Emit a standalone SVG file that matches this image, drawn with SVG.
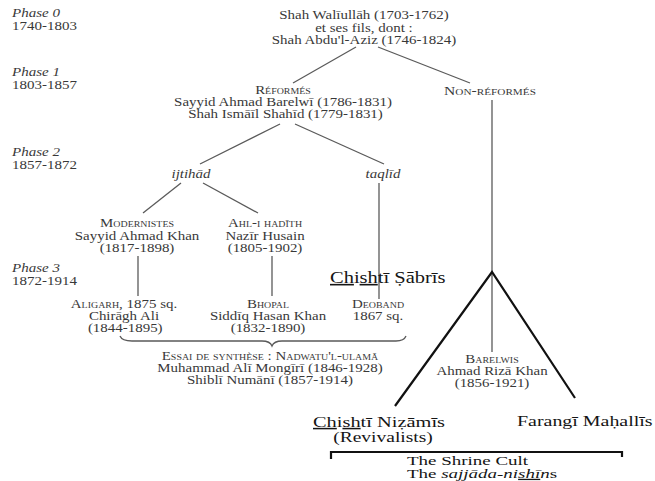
<svg xmlns="http://www.w3.org/2000/svg" width="655" height="481" viewBox="0 0 655 481">
<style>
.f{font-family:"Liberation Serif","Times New Roman",serif;font-size:12px;fill:#383838}
.m{text-anchor:middle}
.sc{font-variant:small-caps}
.it{font-style:italic}
.e{font-family:"Liberation Serif","Times New Roman",serif;fill:#151515}
.ln{stroke:#5a5a5a;stroke-width:1.3;fill:none}
.bk{stroke:#111;stroke-width:2.2;fill:none}
.u{text-decoration:underline}
</style>
<rect width="655" height="481" fill="#fff"/>
<g id="phases" transform="translate(12,0) scale(1.25,1)">
<text class="f it" x="0" y="17">Phase 0</text><text class="f" x="0" y="30">1740-1803</text>
<text class="f it" x="0" y="76">Phase 1</text><text class="f" x="0" y="89">1803-1857</text>
<text class="f it" x="0" y="156">Phase 2</text><text class="f" x="0" y="169">1857-1872</text>
<text class="f it" x="0" y="272">Phase 3</text><text class="f" x="0" y="285">1872-1914</text>
</g>
<g id="connectors">
<line class="ln" x1="356" y1="47" x2="293" y2="83"/>
<line class="ln" x1="378" y1="47" x2="470" y2="83"/>
<line class="ln" x1="280" y1="124" x2="200" y2="164"/>
<line class="ln" x1="295" y1="124" x2="384" y2="164"/>
<line class="ln" x1="181" y1="183" x2="143" y2="213"/>
<line class="ln" x1="203" y1="183" x2="258" y2="213"/>
<line class="ln" x1="379" y1="183" x2="379" y2="299"/>
<line class="ln" x1="138" y1="256" x2="138" y2="296"/>
<line class="ln" x1="272" y1="256" x2="272" y2="296"/>
<line class="ln" x1="492" y1="100" x2="492" y2="352"/>
<path class="ln" d="M120,336 Q122,341 132,341 L262,341 Q270,341 272,346 Q274,341 282,341 L396,341 Q404,341 406,336"/>
<path class="bk" d="M395,406 L492,272 L575,398"/>
<path class="bk" d="M331,459 L331,452 L622,452 L622,457"/>
</g>
<g id="n-top" transform="translate(364,0) scale(1.246,1)"><text class="f m" x="0" y="19">Shah Walīullāh (1703-1762)</text><text class="f m" x="0" y="32">et ses fils, dont :</text><text class="f m" x="0" y="44">Shah Abdu'l-Aziz (1746-1824)</text></g>
<g id="n-reformes" transform="translate(283,0) scale(1.246,1)"><text class="f m sc" x="0" y="94">Réformés</text><text class="f m" x="0" y="106">Sayyid Ahmad Barelwī (1786-1831)</text><text class="f m" x="2" y="118">Shah Ismāīl Shahīd (1779-1831)</text></g>
<g id="n-nonreformes" transform="translate(490,0) scale(1.3,1)"><text class="f m sc" x="0" y="95">Non-réformés</text></g>
<g id="n-ijtihad" transform="translate(191,0) scale(1.246,1)"><text class="f m it" x="0" y="178">ijtihād</text></g>
<g id="n-taqlid" transform="translate(383,0) scale(1.246,1)"><text class="f m it" x="0" y="178">taqlīd</text></g>
<g id="n-modernistes" transform="translate(137,0) scale(1.246,1)"><text class="f m sc" x="0" y="227">Modernistes</text><text class="f m" x="0" y="240">Sayyid Ahmad Khan</text><text class="f m" x="0" y="252">(1817-1898)</text></g>
<g id="n-ahl" transform="translate(265,0) scale(1.246,1)"><text class="f m sc" x="0" y="227">Ahl-i hadīth</text><text class="f m" x="0" y="240">Nazīr Husain</text><text class="f m" x="0" y="252">(1805-1902)</text></g>
<g id="n-sabris" transform="translate(330,0) scale(1.28,1)"><text class="e" x="0" y="283" font-size="16"><tspan class="u">Ch</tspan>i<tspan class="u">sh</tspan>tī Ṣābrīs</text></g>
<g id="n-aligarh" transform="translate(124,0) scale(1.246,1)"><text class="f m" x="0" y="308"><tspan class="sc">Aligarh</tspan>, 1875 sq.</text><text class="f m" x="0" y="320">Chirāgh Ali</text><text class="f m" x="1" y="332">(1844-1895)</text></g>
<g id="n-bhopal" transform="translate(268,0) scale(1.246,1)"><text class="f m sc" x="0" y="308">Bhopal</text><text class="f m" x="0" y="320">Siddīq Hasan Khan</text><text class="f m" x="0" y="332">(1832-1890)</text></g>
<g id="n-deoband" transform="translate(378,0) scale(1.246,1)"><text class="f m sc" x="0" y="308">Deoband</text><text class="f m" x="0" y="320">1867 sq.</text></g>
<g id="n-essai" transform="translate(270,0) scale(1.246,1)"><text class="f m sc" x="0" y="360">Essai de synthèse : Nadwatu'l-ulamā</text><text class="f m" x="0" y="372">Muhammad Alī Mongīrī (1846-1928)</text><text class="f m" x="0" y="384">Shiblī Numānī (1857-1914)</text></g>
<g id="n-barelwis" transform="translate(492,0) scale(1.246,1)"><text class="f m sc" x="0" y="363">Barelwis</text><text class="f m" x="0" y="375">Ahmad Rizā Khan</text><text class="f m" x="0" y="387">(1856-1921)</text></g>
<g id="n-nizamis"><g transform="translate(313,0) scale(1.36,1)"><text class="e" x="0" y="427" font-size="15"><tspan class="u">Ch</tspan>i<tspan class="u">sh</tspan>tī Niẓāmīs</text></g><g transform="translate(383,0) scale(1.3,1)"><text class="e m" x="0" y="442" font-size="15">(Revivalists)</text></g></g>
<g id="n-farangi" transform="translate(517,0) scale(1.33,1)"><text class="e" x="0" y="426" font-size="15">Farangī Maḥallīs</text></g>
<g id="n-shrine" transform="translate(407,0) scale(1.46,1)"><text class="e" x="0" y="465" font-size="13">The Shrine Cult</text><text class="e" x="0" y="478" font-size="13">The <tspan class="it">sajjāda-ni<tspan class="u">shī</tspan>n</tspan>s</text></g>
</svg>
